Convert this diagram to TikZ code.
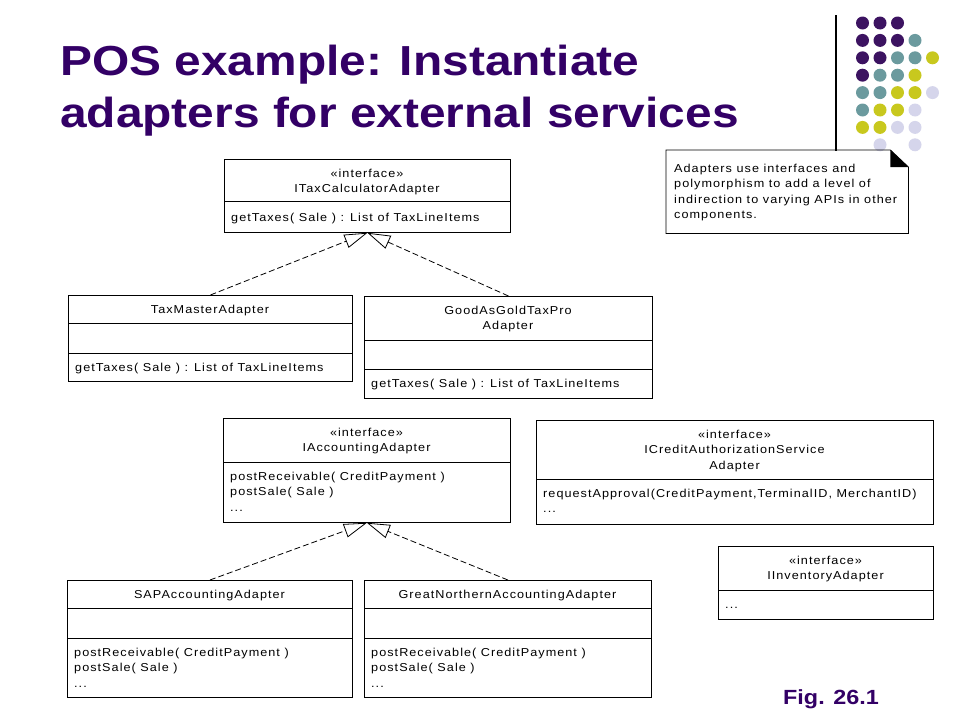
\documentclass[tikz,border=0pt]{standalone}
\usepackage{fontspec}
\setmainfont{Liberation Sans}
\newfontfamily\umlfont[LetterSpace=9,FakeStretch=1.1]{Liberation Sans}
\newfontfamily\slidefont[FakeStretch=1.14]{Liberation Sans}
\usepackage{tikz}
\usetikzlibrary{arrows.meta}
\definecolor{colortitle}{HTML}{330066}
\definecolor{dotpur}{HTML}{3C1361}
\definecolor{dotteal}{HTML}{6B9A9E}
\definecolor{dotolive}{HTML}{C8C81E}
\definecolor{dotlav}{HTML}{D5D5EB}
\definecolor{dotnone}{HTML}{FFFFFF}
\tikzset{
  classbox/.style={draw, line width=0.8pt, anchor=north west, inner sep=0pt},
  classline/.style={black, line width=0.8pt},
  classtxt/.style={font=\umlfont\fontsize{11.5}{15.5}\selectfont, inner sep=0pt, align=center, anchor=base},
  opstxt/.style={classtxt, align=left, anchor=base west},
  realize/.style={line width=0.8pt, dash pattern=on 6pt off 3pt,
    -{Triangle[open, length=23pt, width=14pt]}},
  slidetxt/.style={anchor=base west, inner sep=0pt, align=left, text=colortitle}
}

\begin{document}
\begin{tikzpicture}[x=1pt, y=-1pt]
\useasboundingbox (0,0) rectangle (960,720);

% slide decoration
\draw[line width=1.2pt] (836,15) -- (836,151);
\foreach \cols [count=\r from 0] in {{pur,pur,pur},{pur,pur,pur,teal},
    {pur,pur,teal,teal,olive},{pur,teal,teal,olive},{teal,teal,olive,olive,lav},
    {teal,olive,olive,lav},{olive,olive,lav,lav},{none,lav,none,lav}}
  \foreach \c [count=\i from 0] in \cols
    \fill[dot\c] ({862.5+17.5*\i},{23+17.4*\r}) circle (6.5);

% multi-line nodes sit on their last baseline
\node[slidetxt, font=\slidefont\bfseries\fontsize{42}{52}\selectfont] (title) at (60,127)
{POS example: Instantiate\\adapters for external services};

\node[slidetxt, font=\slidefont\bfseries\fontsize{20.5}{24}\selectfont] (figno) at (783,704)
{Fig. 26.1};

% note
\node[minimum width=242, minimum height=83, anchor=north west, inner sep=0pt] (note) at (666,150) {};
\draw[classline] (note.north west) -- ([xshift=-18pt]note.north east)
  -- ([yshift=-17pt]note.north east) -- (note.south east) -- (note.south west) -- cycle;
\fill ([xshift=-18pt]note.north east) -- ([xshift=-18pt,yshift=-17pt]note.north east)
  -- ([yshift=-17pt]note.north east) -- cycle;
\node[opstxt] (notetxt) at (674,218.5)
{Adapters use interfaces and\\polymorphism to add a level of\\indirection to varying APIs in other\\components.};

% tax adapters
\node[classbox, minimum width=286, minimum height=73] (itax) at (224,159) {};
\draw[classline] (itax.west |- 0,201) -- (itax.east |- 0,201);
\node[classtxt] (itaxH) at (367,192.5) {«interface»\\ITaxCalculatorAdapter};
\node[opstxt] (itaxM) at (231,221) {getTaxes( Sale ) : List of TaxLineItems};

\node[classbox, minimum width=284, minimum height=86] (taxm) at (68,295) {};
\draw[classline] (taxm.west |- 0,323) -- (taxm.east |- 0,323);
\draw[classline] (taxm.west |- 0,353) -- (taxm.east |- 0,353);
\node[classtxt] (taxmH) at (210,313) {TaxMasterAdapter};
\node[opstxt] (taxmM) at (75,371) {getTaxes( Sale ) : List of TaxLineItems};

\node[classbox, minimum width=288, minimum height=102] (gag) at (364,296) {};
\draw[classline] (gag.west |- 0,340) -- (gag.east |- 0,340);
\draw[classline] (gag.west |- 0,369) -- (gag.east |- 0,369);
\node[classtxt] (gagH) at (508,329.5) {GoodAsGoldTaxPro\\Adapter};
\node[opstxt] (gagM) at (371,387) {getTaxes( Sale ) : List of TaxLineItems};

\draw[realize] (taxm.north) -- (itax.south);
\draw[realize] (gag.north) -- (itax.south);

% accounting adapters
\node[classbox, minimum width=287, minimum height=104] (iacc) at (223,418) {};
\draw[classline] (iacc.west |- 0,462) -- (iacc.east |- 0,462);
\node[classtxt] (iaccH) at (366.5,451.5) {«interface»\\IAccountingAdapter};
\node[opstxt] (iaccM) at (230,511) {postReceivable( CreditPayment )\\postSale( Sale )\\...};

\node[classbox, minimum width=285, minimum height=117] (sap) at (67,580) {};
\draw[classline] (sap.west |- 0,608) -- (sap.east |- 0,608);
\draw[classline] (sap.west |- 0,638) -- (sap.east |- 0,638);
\node[classtxt] (sapH) at (209.5,598) {SAPAccountingAdapter};
\node[opstxt] (sapM) at (74,687) {postReceivable( CreditPayment )\\postSale( Sale )\\...};

\node[classbox, minimum width=287, minimum height=117] (gna) at (364,580) {};
\draw[classline] (gna.west |- 0,608) -- (gna.east |- 0,608);
\draw[classline] (gna.west |- 0,638) -- (gna.east |- 0,638);
\node[classtxt] (gnaH) at (507.5,598) {GreatNorthernAccountingAdapter};
\node[opstxt] (gnaM) at (371,687) {postReceivable( CreditPayment )\\postSale( Sale )\\...};

\draw[realize] (sap.north) -- (iacc.south);
\draw[realize] (gna.north) -- (iacc.south);

% other interfaces
\node[classbox, minimum width=397, minimum height=104] (icred) at (536,420) {};
\draw[classline] (icred.west |- 0,479) -- (icred.east |- 0,479);
\node[classtxt] (icredH) at (734.5,469) {«interface»\\ICreditAuthorizationService\\Adapter};
\node[opstxt] (icredM) at (543,512.5) {requestApproval(CreditPayment,TerminalID, MerchantID)\\...};

\node[classbox, minimum width=215, minimum height=73] (iinv) at (718,546) {};
\draw[classline] (iinv.west |- 0,590) -- (iinv.east |- 0,590);
\node[classtxt] (iinvH) at (825.5,579.5) {«interface»\\IInventoryAdapter};
\node[opstxt] (iinvM) at (725,608) {...};
\end{tikzpicture}
\end{document}
